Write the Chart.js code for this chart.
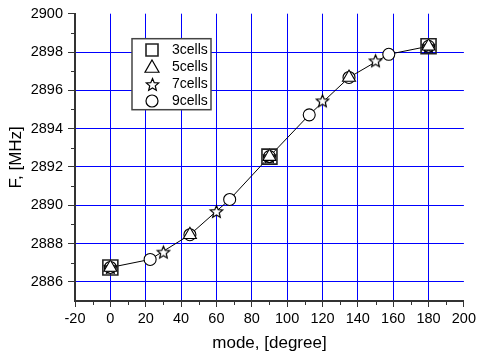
<!DOCTYPE html>
<html>
<head>
<meta charset="utf-8">
<script src="https://cdn.jsdelivr.net/npm/chart.js@4.4.0/dist/chart.umd.min.js"></script>
<style>
  body { margin: 0; background: #fff; }
  #chart { display: block; }
</style>
</head>
<body>
<canvas id="chart" width="479" height="356"></canvas>
<script>
// values (mode in degrees, F in MHz)
const mode3 = [0, 90, 180];
const freq3 = [2886.75, 2892.54, 2898.3];
const mode5 = [0, 45, 90, 135, 180];
const freq5 = [2886.75, 2888.46, 2892.54, 2896.67, 2898.3];
const mode7 = [0, 30, 60, 90, 120, 150, 180];
const freq7 = [2886.75, 2887.55, 2889.67, 2892.54, 2895.45, 2897.54, 2898.3];
const mode9 = [0, 22.5, 45, 67.5, 90, 112.5, 135, 157.5, 180];
const freq9 = [2886.75, 2887.17, 2888.46, 2890.3, 2892.54, 2894.72, 2896.67, 2897.88, 2898.3];

const seriesNames = ['3cells', '5cells', '7cells', '9cells'];

const xTicks = [-20, 0, 20, 40, 60, 80, 100, 120, 140, 160, 180, 200];
const xMinor = [-10, 10, 30, 50, 70, 90, 110, 130, 150, 170, 190];
const yTicks = [2886, 2888, 2890, 2892, 2894, 2896, 2898, 2900];
const yMinor = [2887, 2889, 2891, 2893, 2895, 2897, 2899];

const AXIS = '#333';
const GRID = '#0000ff';
const FONT = "'Liberation Sans', Arial, sans-serif";

// little marker pictures, used for the legend and for the star (chart.js has no 5-point star)
function makeMarker(kind, size) {
    const c = document.createElement('canvas');
    c.width = size + 4;
    c.height = size + 4;
    const g = c.getContext('2d');
    const m = c.width / 2, r = size / 2;
    g.lineWidth = 1.2;
    g.strokeStyle = '#000';
    g.fillStyle = '#fff';
    g.beginPath();
    if (kind === 'square') {
        g.lineWidth = 1.6;
        g.strokeStyle = '#222';
        g.rect(m - r, m - r, size, size);
        g.stroke();
        return c;
    } else if (kind === 'triangle') {
        g.moveTo(m, m - r);
        g.lineTo(m + r, m + r * 0.75);
        g.lineTo(m - r, m + r * 0.75);
        g.closePath();
    } else if (kind === 'star') {
        for (let i = 0; i < 10; i++) {
            const a = -Math.PI / 2 + i * Math.PI / 5;
            const rr = i % 2 === 0 ? r : r * 0.45;
            const px = m + Math.cos(a) * rr, py = m + 0.5 + Math.sin(a) * rr;
            if (i === 0) g.moveTo(px, py); else g.lineTo(px, py);
        }
        g.closePath();
    } else {
        g.arc(m, m, r, 0, Math.PI * 2);
    }
    g.fill();
    g.stroke();
    return c;
}

const starMarker = makeMarker('star', 13);
const legendMarkers = [makeMarker('square', 12), makeMarker('triangle', 14), makeMarker('star', 13), makeMarker('circle', 12)];

const toPoints = (xs, ys) => xs.map((x, i) => ({ x: x, y: ys[i] }));

// minor ticks + the inside legend box
const extrasPlugin = {
    id: 'extras',
    afterDraw(chart) {
        const ctx = chart.ctx;
        const xs = chart.scales.x, ys = chart.scales.y;
        const area = chart.chartArea;
        ctx.save();
        ctx.strokeStyle = AXIS;
        ctx.lineWidth = 1;
        ctx.beginPath();
        xMinor.forEach(v => {
            const px = Math.round(xs.getPixelForValue(v)) + 0.5;
            ctx.moveTo(px, area.bottom);
            ctx.lineTo(px, area.bottom + 4);
        });
        yMinor.forEach(v => {
            const py = Math.round(ys.getPixelForValue(v)) + 0.5;
            ctx.moveTo(area.left - 4, py);
            ctx.lineTo(area.left, py);
        });
        ctx.stroke();

        // legend
        const lx = area.left + 57, ly = area.top + 25, lw = 79, lh = 71;
        ctx.fillStyle = '#fff';
        ctx.fillRect(lx, ly, lw, lh);
        ctx.strokeStyle = '#444';
        ctx.lineWidth = 1.5;
        ctx.strokeRect(lx, ly, lw, lh);
        ctx.font = '14px ' + FONT;
        ctx.fillStyle = '#000';
        ctx.textBaseline = 'middle';
        seriesNames.forEach((name, i) => {
            const cy = ly + 11 + i * 17.2;
            const img = legendMarkers[i];
            ctx.drawImage(img, Math.round(lx + 20 - img.width / 2), Math.round(cy - img.height / 2));
            ctx.fillText(name, lx + 40, cy);
        });
        ctx.restore();
    }
};

const ctx = document.getElementById('chart').getContext('2d');
const chart = new Chart(ctx, {
    type: 'scatter',
    data: {
        datasets: [
            { label: seriesNames[0], data: toPoints(mode3, freq3), pointStyle: 'rect', pointRadius: 10.6,
              pointBorderColor: '#222', pointBackgroundColor: 'rgba(255,255,255,0)', pointBorderWidth: 1.6, showLine: false },
            { label: seriesNames[1], data: toPoints(mode5, freq5), pointStyle: 'triangle', pointRadius: 7.5,
              pointBorderColor: '#000', pointBackgroundColor: '#fff', pointBorderWidth: 1.1, showLine: false },
            { label: seriesNames[2], data: toPoints(mode7, freq7), pointStyle: starMarker, pointRadius: 6, showLine: false },
            { label: seriesNames[3], data: toPoints(mode9, freq9), pointStyle: 'circle', pointRadius: 6,
              pointBorderColor: '#000', pointBackgroundColor: '#fff', pointBorderWidth: 1.1,
              showLine: true, borderColor: '#000', borderWidth: 1 }
        ]
    },
    options: {
        responsive: false,
        animation: false,
        layout: { padding: { top: 13, right: 11, left: 0, bottom: 0 } },
        plugins: {
            legend: { display: false },
            tooltip: { enabled: false }
        },
        scales: {
            x: {
                type: 'linear',
                min: -20,
                max: 200,
                afterBuildTicks: s => { s.ticks = xTicks.map(v => ({ value: v })); },
                afterFit: s => { s.height = 55; },
                border: { color: AXIS, width: 2 },
                grid: {
                    color: c => (c.tick && (c.tick.value === -20 || c.tick.value === 200)) ? 'rgba(0,0,0,0)' : GRID,
                    tickColor: AXIS,
                    tickLength: 6,
                    lineWidth: 1
                },
                ticks: { color: '#000', font: { family: FONT, size: 14.5 }, padding: 3, maxRotation: 0,
                         callback: v => String(v) },
                title: { display: true, text: 'mode, [degree]', color: '#000', font: { family: FONT, size: 17 }, padding: { top: 0, bottom: 2 } }
            },
            y: {
                type: 'linear',
                min: 2885,
                max: 2900,
                afterBuildTicks: s => { s.ticks = yTicks.map(v => ({ value: v })); },
                afterFit: s => { s.width = 75; },
                border: { color: AXIS, width: 2 },
                grid: {
                    color: c => (c.tick && c.tick.value === 2900) ? 'rgba(0,0,0,0)' : GRID,
                    tickColor: AXIS,
                    tickLength: 7,
                    lineWidth: 1
                },
                ticks: { color: '#000', font: { family: FONT, size: 14.5 }, padding: 5,
                         callback: v => String(v) },
                title: { display: true, text: 'F, [MHz]', color: '#000', font: { family: FONT, size: 17 }, padding: { top: 6, bottom: 0 } }
            }
        }
    },
    plugins: [extrasPlugin]
});
</script>
</body>
</html>
